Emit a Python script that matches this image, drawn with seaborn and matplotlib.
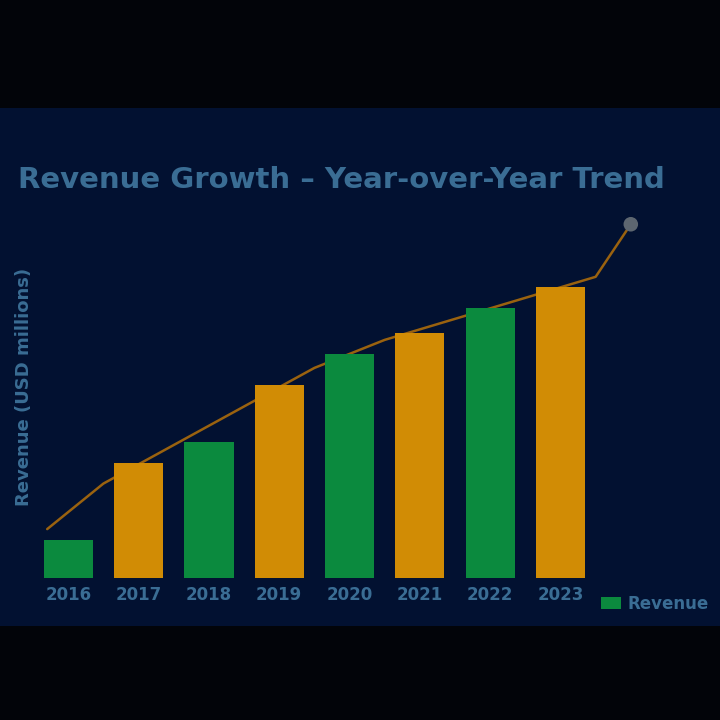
#!/usr/bin/env python3
"""Dark-screen bar chart with alternating colours and a rising trend line."""

import numpy as np
import pandas as pd

import matplotlib

matplotlib.use("Agg")
import matplotlib.pyplot as plt
from matplotlib.patches import Rectangle, Patch
import seaborn as sns


YEARS = ["2016", "2017", "2018", "2019", "2020", "2021", "2022", "2023"]
REVENUE = [11, 33, 39, 55, 64, 70, 77, 83]
SERIES = ["A", "B", "A", "B", "A", "B", "A", "B"]
TREND_X = [-0.3, 0.5, 1.5, 2.5, 3.5, 4.5, 5.5, 6.5, 7.5, 8.0]
TREND_Y = [14, 27, 38, 49, 60, 68, 74, 80, 86, 101]

TITLE = "Revenue Growth – Year-over-Year Trend"
YLABEL = "Revenue (USD millions)"
LEGEND_LABEL = "Revenue"

GREEN = "#0b8a3e"
ORANGE = "#d18c05"
NAVY = "#021131"
TEXT_BLUE = "#3a6d94"


def configure_style():
    sns.set_theme(style="dark")
    plt.rcParams.update(
        {
            "font.family": ["DejaVu Sans"],
            "axes.facecolor": NAVY,
            "figure.facecolor": "#020409",
            "axes.edgecolor": NAVY,
        }
    )


def main():
    configure_style()
    df = pd.DataFrame({"year": YEARS, "revenue": REVENUE, "series": SERIES})

    fig = plt.figure(figsize=(7.2, 7.2), dpi=100)
    # navy screen panel between black bands
    fig.patches.append(
        Rectangle((0, 0.13), 1, 0.72, transform=fig.transFigure,
                  facecolor=NAVY, edgecolor="none", zorder=-10)
    )
    ax = fig.add_axes([0.046, 0.197, 0.918, 0.511])
    ax.set_zorder(5)

    # trend line sits behind the bars, as on the screen
    ax.plot(TREND_X, TREND_Y, color="#9a620f", linewidth=1.8, zorder=1)
    ax.scatter([TREND_X[-1]], [TREND_Y[-1]], s=110, color="#5d6670",
               zorder=5, edgecolor="none")
    sns.barplot(
        data=df, x="year", y="revenue", hue="series",
        palette={"A": GREEN, "B": ORANGE}, dodge=False, width=0.7,
        ax=ax, legend=False, saturation=1, linewidth=0, edgecolor="none",
        zorder=3,
    )

    ax.set_xlim(-0.5, 8.9)
    ax.set_ylim(0, 105)
    ax.set_yticks([])
    ax.set_xlabel("")
    ax.set_ylabel(YLABEL, color=TEXT_BLUE, fontsize=13, fontweight="bold")
    ax.yaxis.set_label_coords(0.0, 0.52)
    ax.tick_params(axis="x", colors=TEXT_BLUE, labelsize=12, length=0, pad=6)
    for lbl in ax.get_xticklabels():
        lbl.set_fontweight("bold")
    ax.grid(False)
    for spine in ax.spines.values():
        spine.set_visible(False)

    ax.legend(
        handles=[Patch(facecolor=GREEN, edgecolor="none", label=LEGEND_LABEL)],
        loc="upper right", bbox_to_anchor=(1.045, -0.005), frameon=False,
        labelcolor=TEXT_BLUE, prop={"size": 12, "weight": "bold"},
        handlelength=1.2, handletextpad=0.4,
    )

    fig.text(0.025, 0.75, TITLE, color=TEXT_BLUE, fontsize=21,
             fontweight="bold", ha="left", va="center")

    fig.savefig("out.png", dpi=100, facecolor=fig.get_facecolor())
    plt.close(fig)


if __name__ == "__main__":
    main()
